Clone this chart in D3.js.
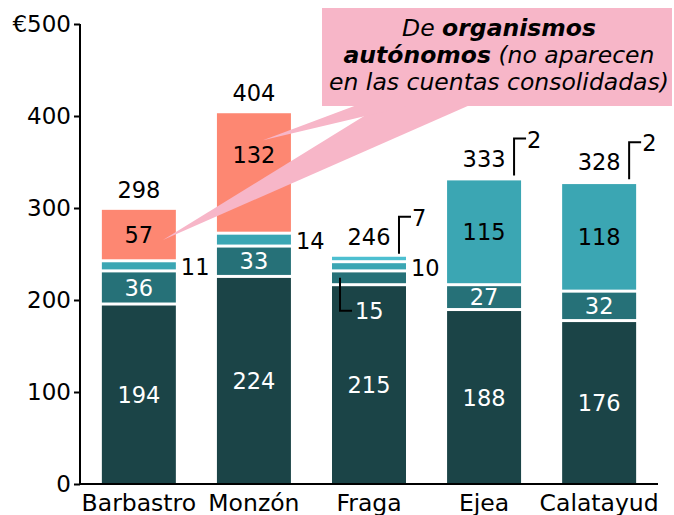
<!DOCTYPE html>
<html>
<head>
<meta charset="utf-8">
<script src="https://cdn.jsdelivr.net/npm/d3@7"></script>
<style>
  body { margin: 0; background: #fff; }
  svg text { font-family: "DejaVu Sans", Verdana, sans-serif; font-size: 22.5px; }
</style>
</head>
<body>
<svg id="chart" width="674" height="515"></svg>
<script>
// data (millions of euros)
const cities = ['Barbastro', 'Monzón', 'Fraga', 'Ejea', 'Calatayud'];
const base = [194, 224, 215, 188, 176];
const second = [36, 33, 15, 27, 32];
const third = [11, 14, 10, 115, 118];
const fourth = [0, 0, 7, 2, 2];
const autonomous = [57, 132, 0, 0, 0];
const totals = [298, 404, 246, 333, 328];
const yTicks = [0, 100, 200, 300, 400, 500];

const keys = ['base', 'second', 'third', 'fourth', 'autonomous'];
const colors = {
    base: '#1b4447',
    second: '#267178',
    third: '#3ba6b3',
    fourth: '#4dbfd0',
    autonomous: '#fd8772'
};
const labelColor = { base: '#fff', second: '#fff', third: '#000', fourth: '#000', autonomous: '#000' };

const rows = cities.map((c, i) => ({
    city: c, base: base[i], second: second[i], third: third[i],
    fourth: fourth[i], autonomous: autonomous[i], total: totals[i]
}));

const svg = d3.select('#chart');

const x = d3.scaleBand()
    .domain(cities)
    .range([80, 658])
    .paddingInner(0.357)
    .paddingOuter(0.19);

const y = d3.scaleLinear()
    .domain([0, 500])
    .range([484, 24]);

const stack = d3.stack().keys(keys)(rows);
const gap = 3;

// bars
stack.forEach(layer => {
    svg.append('g')
        .selectAll('rect')
        .data(layer)
        .enter().append('rect')
        .attr('x', d => x(d.data.city))
        .attr('width', x.bandwidth())
        .attr('y', d => y(d[1]))
        .attr('height', d => Math.max(0, y(d[0]) - y(d[1]) - (d[0] > 0 ? gap : 0)))
        .attr('fill', colors[layer.key]);
});

// callout for the autonomous bodies (wedges go over the bars)
const callout = svg.append('g');
const autoLayer = stack.find(l => l.key === 'autonomous');
const barb = autoLayer[0], monz = autoLayer[1];
const tipB = [x(barb.data.city) + x.bandwidth() - 13, (y(barb[0]) + y(barb[1])) / 2 + 4];
const tipM = [x(monz.data.city) + 46, y(monz[1]) + 27];
callout.append('polygon')
    .attr('points', [tipB, [382, 105], [470, 105]].join(' '))
    .attr('fill', '#f7b6c8');
callout.append('polygon')
    .attr('points', [tipM, [357, 105], [412, 105]].join(' '))
    .attr('fill', '#f7b6c8');
callout.append('rect')
    .attr('x', 322).attr('y', 8)
    .attr('width', 350).attr('height', 98)
    .attr('fill', '#f7b6c8');

const lines = [
    [['De ', 'normal'], ['organismos', 'bold']],
    [['autónomos', 'bold'], [' (no aparecen', 'normal']],
    [['en las cuentas consolidadas)', 'normal']]
];
lines.forEach((parts, i) => {
    const t = callout.append('text')
        .attr('x', 499)
        .attr('y', 36 + i * 27)
        .attr('text-anchor', 'middle')
        .style('font-size', '23.5px')
        .style('font-style', 'italic');
    parts.forEach(p => {
        t.append('tspan').attr('font-weight', p[1]).text(p[0]);
    });
});

// labels inside the segments (tall top segments keep the label near the top)
stack.forEach(layer => {
    const big = layer.filter(d => d[1] - d[0] >= 25);
    svg.append('g')
        .selectAll('text')
        .data(big)
        .enter().append('text')
        .attr('x', d => x(d.data.city) + x.bandwidth() / 2)
        .attr('y', d => {
            const mid = (y(d[0]) + y(d[1])) / 2 - (d[0] > 0 ? gap / 2 : 0);
            return layer.key === 'autonomous' ? Math.min(mid, y(d[1]) + 42) : mid;
        })
        .attr('dy', '0.36em')
        .attr('text-anchor', 'middle')
        .attr('fill', labelColor[layer.key])
        .text(d => d[1] - d[0]);
});

// small third segments: label at the right of the bar
const thirdLayer = stack.find(l => l.key === 'third');
svg.append('g')
    .selectAll('text')
    .data(thirdLayer.filter(d => d[1] - d[0] < 25))
    .enter().append('text')
    .attr('x', d => x(d.data.city) + x.bandwidth() + 5)
    .attr('y', d => (y(d[0]) + y(d[1])) / 2)
    .attr('dy', '0.36em')
    .text(d => d[1] - d[0]);

// small second segment (Fraga): leader down into the base segment
const secondLayer = stack.find(l => l.key === 'second');
secondLayer.filter(d => d[1] - d[0] < 25).forEach(d => {
    const x0 = x(d.data.city) + 8;
    const yc = (y(d[0]) + y(d[1])) / 2 - gap / 2;
    const y1 = yc + 33;
    svg.append('path')
        .attr('d', `M${x0},${yc}V${y1}H${x0 + 12}`)
        .attr('fill', 'none')
        .attr('stroke', '#000')
        .attr('stroke-width', 2);
    svg.append('text')
        .attr('x', x0 + 15)
        .attr('y', y1)
        .attr('dy', '0.36em')
        .attr('fill', '#fff')
        .text(d[1] - d[0]);
});

// tiny top segments: leader going up, right of the total
const fourthLayer = stack.find(l => l.key === 'fourth');
fourthLayer.filter(d => d[1] - d[0] > 0).forEach(d => {
    const x0 = x(d.data.city) + x.bandwidth() - 7;
    const yb = y(d[1]) - 3;
    const yt = yb - 37;
    svg.append('path')
        .attr('d', `M${x0},${yb}V${yt}H${x0 + 12}`)
        .attr('fill', 'none')
        .attr('stroke', '#000')
        .attr('stroke-width', 2);
    svg.append('text')
        .attr('x', x0 + 13)
        .attr('y', yt + 9)
        .text(d[1] - d[0]);
});

// totals above the bars
const topLayer = stack[stack.length - 1];
svg.append('g')
    .selectAll('text')
    .data(topLayer)
    .enter().append('text')
    .attr('x', d => x(d.data.city) + x.bandwidth() / 2)
    .attr('y', d => y(d[1]) - 12)
    .attr('text-anchor', 'middle')
    .text(d => d.data.total);

// axes
const yAxis = svg.append('g')
    .attr('transform', 'translate(80,0)')
    .call(d3.axisLeft(y).tickValues(yTicks).tickSize(6).tickPadding(3)
        .tickFormat(d => d === 500 ? '€500' : d));
yAxis.selectAll('path, line').attr('stroke', '#000').attr('stroke-width', 2);
yAxis.select('.domain').attr('d', 'M0,24V484');
yAxis.selectAll('text')
    .style('font-family', '"DejaVu Sans", Verdana, sans-serif')
    .style('font-size', '23px')
    .attr('fill', '#000');

svg.append('line')
    .attr('x1', 79).attr('x2', 658)
    .attr('y1', 484).attr('y2', 484)
    .attr('stroke', '#000').attr('stroke-width', 2);

svg.append('g')
    .selectAll('text')
    .data(cities)
    .enter().append('text')
    .attr('x', d => x(d) + x.bandwidth() / 2)
    .attr('y', 511)
    .attr('text-anchor', 'middle')
    .style('font-size', '23.5px')
    .text(d => d);
</script>
</body>
</html>
